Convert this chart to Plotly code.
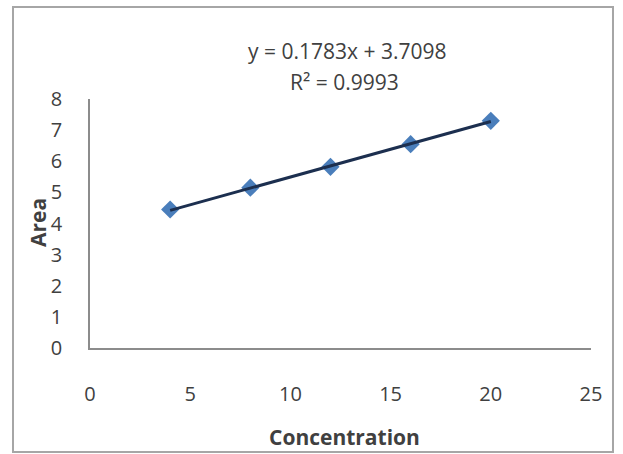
import plotly.graph_objects as go

concentration = [4, 8, 12, 16, 20]
area = [4.45, 5.15, 5.82, 6.55, 7.30]
eq_text = "y = 0.1783x + 3.7098"
r2_text = "R² = 0.9993"
x_ticks = [0, 5, 10, 15, 20, 25]
y_ticks = [0, 1, 2, 3, 4, 5, 6, 7, 8]

slope, intercept = 0.1783, 3.7098
fit_x = [concentration[0], concentration[-1]]
fit_y = [slope * v + intercept for v in fit_x]

FONT = "Open Sans"
TXT = "#404040"
fig = go.Figure()
fig.add_trace(go.Scatter(x=concentration, y=area, mode="markers",
                         marker=dict(symbol="diamond", size=14, color="#4a7ebb",
                                     line=dict(width=0)),
                         showlegend=False))
fig.add_trace(go.Scatter(x=fit_x, y=fit_y, mode="lines",
                         line=dict(color="#1c2f4f", width=3),
                         showlegend=False))

fig.update_layout(
    width=623, height=454,
    margin=dict(l=90, r=32, t=99, b=106),
    paper_bgcolor="white", plot_bgcolor="white",
    font=dict(family=FONT, size=15, color=TXT),
    xaxis=dict(range=[0, 25], tickvals=x_ticks, showgrid=False,
               zeroline=False, showline=True, linecolor="#8c8c8c", linewidth=1.5,
               ticks="", ticklabelstandoff=27, tickfont=dict(size=20, color=TXT)),
    yaxis=dict(range=[0, 8], tickvals=y_ticks, showgrid=False,
               zeroline=False, showline=True, linecolor="#8c8c8c", linewidth=1.5,
               ticks="", ticklabelstandoff=22, tickfont=dict(size=20, color=TXT)),
    shapes=[dict(type="rect", xref="paper", yref="paper",
                 x0=-0.1537, x1=1.0439, y0=-0.4177, y1=1.3695,
                 line=dict(color="#a6a6a6", width=2))],
    annotations=[
        dict(text=eq_text, xref="paper", yref="paper", x=(347-90)/501, y=(348-51)/249,
             xanchor="center", yanchor="middle",
             showarrow=False, font=dict(size=21, color=TXT)),
        dict(text=r2_text, xref="paper", yref="paper", x=(344-90)/501, y=(348-82)/249,
             xanchor="center", yanchor="middle",
             showarrow=False, font=dict(size=21, color=TXT)),
        dict(text="<b>Concentration</b>", xref="paper", yref="paper", x=(344-90)/501,
             y=(348-437)/249, xanchor="center", yanchor="middle",
             showarrow=False, font=dict(size=21, color=TXT)),
        dict(text="<b>Area</b>", xref="paper", yref="paper", x=(38-90)/501,
             y=(348-223)/249, xanchor="center", yanchor="middle",
             showarrow=False, textangle=-90,
             font=dict(size=21, color=TXT)),
    ],
)
fig.write_html("out.html")
